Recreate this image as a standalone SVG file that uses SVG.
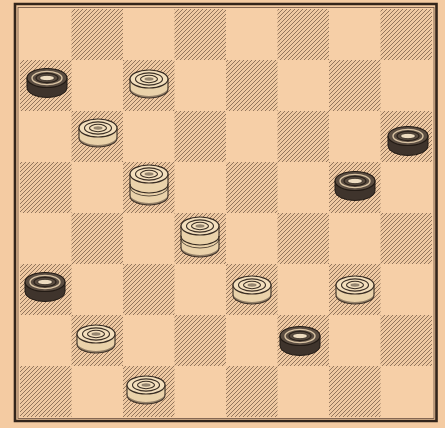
<svg xmlns="http://www.w3.org/2000/svg" width="445" height="428" viewBox="0 0 445 428">
<defs>
<pattern id="hatch" patternUnits="userSpaceOnUse" width="4" height="4">
<rect width="4" height="4" fill="#efc9a2"/>
<path d="M-1,1 l2,-2 M0,4 l4,-4 M3,5 l2,-2" stroke="#8f7258" stroke-width="0.95"/>
</pattern>
<g id="black">
<path d="M-20,0 v10 a20,9.5 0 0 0 40,0 v-10 z" fill="#3f342c" stroke="#231b15" stroke-width="1"/>
<ellipse rx="20" ry="9.5" fill="#5b4d41" stroke="#231b15" stroke-width="1.2"/>
<ellipse rx="15" ry="6.6" fill="none" stroke="#d9c3a3" stroke-width="1.4"/>
<ellipse rx="11" ry="4.6" fill="none" stroke="#2c231c" stroke-width="1.2"/>
<ellipse rx="7.5" ry="2.7" fill="#eedcc0" stroke="#2c231c" stroke-width="0.8"/>
</g>
<g id="white">
<path d="M-19,0 v10 a19,9 0 0 0 38,0 v-10 z" fill="#ead2aa" stroke="#3a2e24" stroke-width="1.1"/>
<path d="M-19,8 a19,9 0 0 0 38,0 v2 a19,9 0 0 1 -38,0 z" fill="#5a4a3c" opacity="0.6"/>
<ellipse rx="19" ry="9" fill="#f3dfbd" stroke="#3a2e24" stroke-width="1.2"/>
<ellipse rx="13.5" ry="6.1" fill="none" stroke="#3a2e24" stroke-width="1.1"/>
<ellipse rx="8.5" ry="3.7" fill="none" stroke="#3a2e24" stroke-width="1.1"/>
<ellipse rx="4.5" ry="1.7" fill="#3a2e24" opacity="0.5"/>
</g>
<g id="wking">
<path d="M-19,0 v22 a19,9 0 0 0 38,0 v-22 z" fill="#ead2aa" stroke="#3a2e24" stroke-width="1.1"/>
<path d="M-19,10 a19,9 0 0 0 38,0" fill="none" stroke="#3a2e24" stroke-width="1.1"/>
<path d="M-19,13 a19,9 0 0 0 38,0" fill="none" stroke="#3a2e24" stroke-width="0.8"/>
<path d="M-19,20 a19,9 0 0 0 38,0 v2 a19,9 0 0 1 -38,0 z" fill="#5a4a3c" opacity="0.6"/>
<ellipse rx="19" ry="9" fill="#f3dfbd" stroke="#3a2e24" stroke-width="1.2"/>
<ellipse rx="13.5" ry="6.1" fill="none" stroke="#3a2e24" stroke-width="1.1"/>
<ellipse rx="8.5" ry="3.7" fill="none" stroke="#3a2e24" stroke-width="1.1"/>
<ellipse rx="4.5" ry="1.7" fill="#3a2e24" opacity="0.5"/>
</g>
</defs>
<style>
.d{fill:url(#hatch)}
</style>
<rect width="445" height="428" fill="#f4cba2"/>
<g id="board">
<rect x="18" y="8" width="416" height="410" fill="#f6cfa7"/>
<g id="dark-squares">
<rect class="d" x="71.5" y="9" width="51.5" height="51"/>
<rect class="d" x="174.5" y="9" width="51.5" height="51"/>
<rect class="d" x="277.5" y="9" width="51.5" height="51"/>
<rect class="d" x="380.5" y="9" width="51.5" height="51"/>
<rect class="d" x="20" y="60" width="51.5" height="51"/>
<rect class="d" x="123" y="60" width="51.5" height="51"/>
<rect class="d" x="226" y="60" width="51.5" height="51"/>
<rect class="d" x="329" y="60" width="51.5" height="51"/>
<rect class="d" x="71.5" y="111" width="51.5" height="51"/>
<rect class="d" x="174.5" y="111" width="51.5" height="51"/>
<rect class="d" x="277.5" y="111" width="51.5" height="51"/>
<rect class="d" x="380.5" y="111" width="51.5" height="51"/>
<rect class="d" x="20" y="162" width="51.5" height="51"/>
<rect class="d" x="123" y="162" width="51.5" height="51"/>
<rect class="d" x="226" y="162" width="51.5" height="51"/>
<rect class="d" x="329" y="162" width="51.5" height="51"/>
<rect class="d" x="71.5" y="213" width="51.5" height="51"/>
<rect class="d" x="174.5" y="213" width="51.5" height="51"/>
<rect class="d" x="277.5" y="213" width="51.5" height="51"/>
<rect class="d" x="380.5" y="213" width="51.5" height="51"/>
<rect class="d" x="20" y="264" width="51.5" height="51"/>
<rect class="d" x="123" y="264" width="51.5" height="51"/>
<rect class="d" x="226" y="264" width="51.5" height="51"/>
<rect class="d" x="329" y="264" width="51.5" height="51"/>
<rect class="d" x="71.5" y="315" width="51.5" height="51"/>
<rect class="d" x="174.5" y="315" width="51.5" height="51"/>
<rect class="d" x="277.5" y="315" width="51.5" height="51"/>
<rect class="d" x="380.5" y="315" width="51.5" height="51"/>
<rect class="d" x="20" y="366" width="51.5" height="51"/>
<rect class="d" x="123" y="366" width="51.5" height="51"/>
<rect class="d" x="226" y="366" width="51.5" height="51"/>
<rect class="d" x="329" y="366" width="51.5" height="51"/>
</g>
<rect x="18" y="7.5" width="416" height="411" fill="none" stroke="#6a5040" stroke-width="0.8"/>
<path d="M15,4 H436.5 V421 H15 Z" fill="none" stroke="#33251b" stroke-width="2.6"/>
</g>
<g id="p-b-r1c0"><use href="#black" x="47" y="78"/></g>
<g id="p-w-r1c2"><use href="#white" x="149" y="79"/></g>
<g id="p-w-r2c1"><use href="#white" x="98" y="128"/></g>
<g id="p-b-r2c7"><use href="#black" x="408" y="136"/></g>
<g id="p-wk-r3c2"><use href="#wking" x="149" y="174"/></g>
<g id="p-b-r3c6"><use href="#black" x="355" y="181"/></g>
<g id="p-wk-r4c3"><use href="#wking" x="200" y="226"/></g>
<g id="p-b-r5c0"><use href="#black" x="45" y="282"/></g>
<g id="p-w-r5c4"><use href="#white" x="252" y="285"/></g>
<g id="p-w-r5c6"><use href="#white" x="355" y="285"/></g>
<g id="p-w-r6c1"><use href="#white" x="96" y="334"/></g>
<g id="p-b-r6c5"><use href="#black" x="300" y="336"/></g>
<g id="p-w-r7c2"><use href="#white" x="146" y="385"/></g>
<g id="connectors"/>
</svg>
